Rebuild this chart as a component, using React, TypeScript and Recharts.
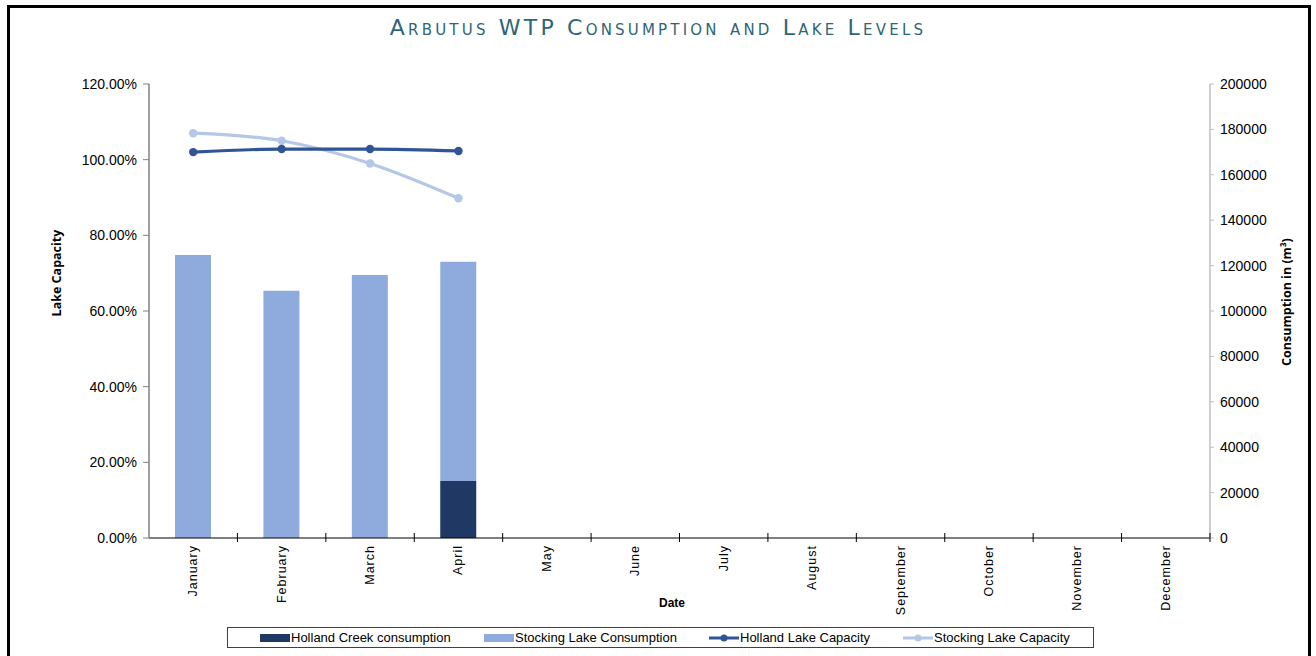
import { Bar, ComposedChart, Line, XAxis, YAxis } from "recharts"

// Arbutus WTP consumption (m³) and lake levels (% capacity)
const months = [
  "January", "February", "March", "April", "May", "June",
  "July", "August", "September", "October", "November", "December",
]
const hollandCreekConsumption = [0, 0, 0, 25100, null, null, null, null, null, null, null, null]
const stockingLakeConsumption = [124700, 108900, 115900, 96600, null, null, null, null, null, null, null, null]
const hollandLakeCapacity = [102.0, 102.8, 102.8, 102.3, null, null, null, null, null, null, null, null]
const stockingLakeCapacity = [107.0, 105.0, 99.0, 89.8, null, null, null, null, null, null, null, null]

const capacityTicks = [0, 20, 40, 60, 80, 100, 120]
const consumptionTicks = [0, 20000, 40000, 60000, 80000, 100000, 120000, 140000, 160000, 180000, 200000]

const data = months.map((month, i) => ({
  month,
  hollandCreek: hollandCreekConsumption[i],
  stockingLake: stockingLakeConsumption[i],
  hollandCap: hollandLakeCapacity[i],
  stockingCap: stockingLakeCapacity[i],
}))

const C_DARK = "#1f3864"
const C_BAR = "#8faadc"
const C_LINE = "#2f5597"
const C_LINE_LIGHT = "#b4c7e7"

const PLOT_LEFT = 149
const PLOT_RIGHT = 1210
const BAND = (PLOT_RIGHT - PLOT_LEFT) / months.length

const font = "'Liberation Sans', Arial, sans-serif"
const titleFont = "'Open Sans', 'Noto Sans', sans-serif"

function MonthTick(props: any) {
  const { x, y, payload } = props
  return (
    <g>
      <line x1={x + BAND / 2} x2={x + BAND / 2} y1={y - 5} y2={y + 4} stroke="#000" strokeWidth={1} />
      <text
        x={x}
        y={y + 7}
        transform={`rotate(-90, ${x}, ${y + 7})`}
        textAnchor="end"
        dominantBaseline="central"
        fontSize={12.5}
        fontFamily={font}
        letterSpacing={1}
        fill="#000"
      >
        {payload.value}
      </text>
    </g>
  )
}

function RotatedTitle({ cx, cy, text }: { cx: number; cy: number; text: string }) {
  return (
    <div
      style={{
        position: "absolute",
        left: cx - 100,
        top: cy - 8,
        width: 200,
        height: 16,
        lineHeight: "16px",
        textAlign: "center",
        transform: "rotate(-90deg)",
        fontFamily: titleFont,
        fontWeight: 700,
        fontSize: 12.5,
        color: "#000",
        whiteSpace: "nowrap",
      }}
    >
      {text}
    </div>
  )
}

function LegendBox() {
  const items = [
    { label: "Holland Creek consumption", color: C_DARK, kind: "bar", left: 259 },
    { label: "Stocking Lake Consumption", color: C_BAR, kind: "bar", left: 483 },
    { label: "Holland Lake Capacity", color: C_LINE, kind: "line", left: 708 },
    { label: "Stocking Lake Capacity", color: C_LINE_LIGHT, kind: "line", left: 902 },
  ]
  return (
    <div
      style={{
        position: "absolute",
        left: 227,
        top: 627,
        width: 867,
        height: 21,
        border: "1px solid #404040",
        boxSizing: "border-box",
        fontFamily: font,
        fontSize: 13,
      }}
    >
      {items.map((it) => (
        <div
          key={it.label}
          style={{ position: "absolute", left: it.left - 227, top: 0, height: 19, display: "flex", alignItems: "center" }}
        >
          {it.kind === "bar" ? (
            <div style={{ width: 30, height: 8, background: it.color }} />
          ) : (
            <svg width={30} height={10}>
              <line x1={0} x2={30} y1={5} y2={5} stroke={it.color} strokeWidth={3} />
              <circle cx={15} cy={5} r={3.5} fill={it.color} />
            </svg>
          )}
          <span style={{ marginLeft: 1, whiteSpace: "nowrap" }}>{it.label}</span>
        </div>
      ))}
    </div>
  )
}

export default function App() {
  return (
    <div style={{ position: "absolute", left: 0, top: 0, width: 1316, height: 656, overflow: "hidden", background: "#fff" }}>
      <div
        style={{
          position: "absolute",
          left: 7,
          top: 5,
          width: 1304,
          height: 700,
          border: "3px solid #000",
          boxSizing: "border-box",
        }}
      />
      <div
        style={{
          position: "absolute",
          left: 0,
          width: 1316,
          top: 14,
          textAlign: "center",
          fontFamily: "'DejaVu Sans', sans-serif",
          fontVariant: "small-caps",
          fontSize: 22,
          letterSpacing: 3.2,
          color: "#2e6676",
          lineHeight: "28px",
        }}
      >
        Arbutus WTP Consumption and Lake Levels
      </div>
      <div style={{ position: "absolute", left: 0, top: 0 }}>
        <ComposedChart
          width={1316}
          height={656}
          data={data}
          barCategoryGap={0}
          margin={{ top: 84, right: 10, bottom: 0, left: 59 }}
        >
          <XAxis
            dataKey="month"
            xAxisId="m"
            height={118}
            interval={0}
            tickSize={0}
            tickMargin={0}
            tickLine={false}
            axisLine={{ stroke: "#000", strokeWidth: 1 }}
            tick={<MonthTick />}
          />
          <YAxis
            yAxisId="cap"
            orientation="left"
            width={90}
            domain={[0, 120]}
            ticks={capacityTicks}
            tickFormatter={(v: number) => `${v.toFixed(2)}%`}
            tick={{ fontSize: 14, fontFamily: font, fill: "#000" }}
            tickSize={6}
            tickMargin={6}
            tickLine={{ stroke: "#808080" }}
            axisLine={{ stroke: "#808080", strokeWidth: 1.5 }}
          />
          <YAxis
            yAxisId="cons"
            orientation="right"
            width={96}
            domain={[0, 200000]}
            ticks={consumptionTicks}
            tick={{ fontSize: 14, fontFamily: font, fill: "#000" }}
            tickSize={4}
            tickMargin={6}
            tickLine={{ stroke: "#bfbfbf" }}
            axisLine={{ stroke: "#bfbfbf", strokeWidth: 1.5 }}
          />
          <Bar xAxisId="m" yAxisId="cons" dataKey="hollandCreek" stackId="c" fill={C_DARK} barSize={36} isAnimationActive={false} />
          <Bar xAxisId="m" yAxisId="cons" dataKey="stockingLake" stackId="c" fill={C_BAR} barSize={36} isAnimationActive={false} />
          <Line
            xAxisId="m"
            yAxisId="cap"
            type="monotone"
            dataKey="stockingCap"
            stroke={C_LINE_LIGHT}
            strokeWidth={3.2}
            dot={{ r: 4.2, fill: C_LINE_LIGHT, stroke: C_LINE_LIGHT, strokeWidth: 0 }}
            isAnimationActive={false}
          />
          <Line
            xAxisId="m"
            yAxisId="cap"
            type="monotone"
            dataKey="hollandCap"
            stroke={C_LINE}
            strokeWidth={3.2}
            dot={{ r: 4.2, fill: C_LINE, stroke: C_LINE, strokeWidth: 0 }}
            isAnimationActive={false}
          />
        </ComposedChart>
      </div>
      <RotatedTitle cx={57} cy={273} text="Lake Capacity" />
      <RotatedTitle cx={1287} cy={302} text="Consumption in (m³)" />
      <div
        style={{
          position: "absolute",
          left: 572,
          top: 595,
          width: 200,
          textAlign: "center",
          fontFamily: "'Liberation Sans Narrow', " + font,
          fontWeight: 700,
          fontSize: 12,
          lineHeight: "16px",
        }}
      >
        Date
      </div>
      <LegendBox />
    </div>
  )
}
